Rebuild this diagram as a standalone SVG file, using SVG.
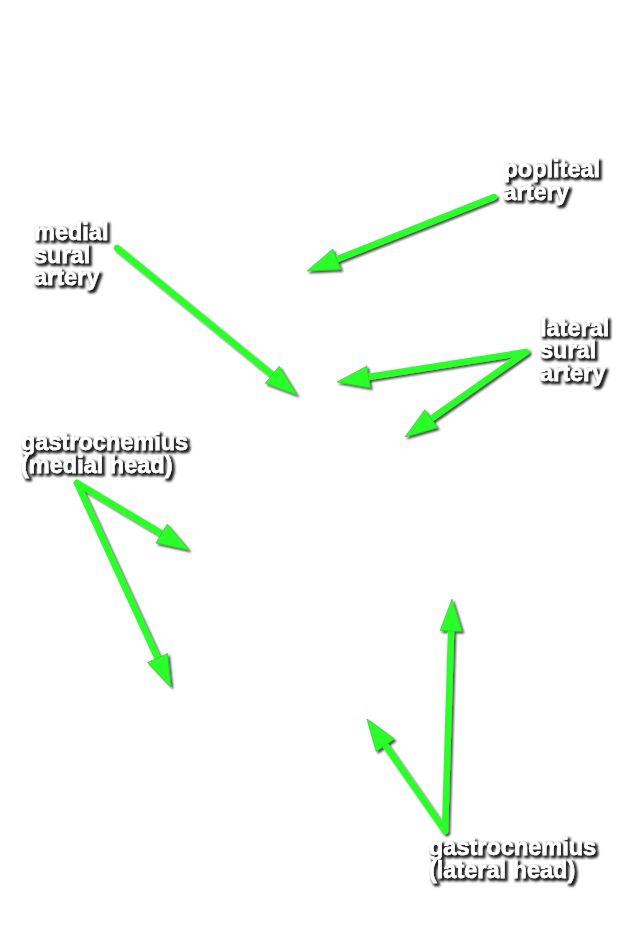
<svg xmlns="http://www.w3.org/2000/svg" width="631" height="950" viewBox="0 0 631 950">
  <defs>
    <filter id="shadow" x="-20%" y="-20%" width="140%" height="140%">
      <feGaussianBlur in="SourceAlpha" stdDeviation="1.2" result="b"/>
      <feOffset in="b" dx="2" dy="2" result="o"/>
      <feFlood flood-color="#000" flood-opacity="0.7"/>
      <feComposite in2="o" operator="in" result="s"/>
      <feMerge><feMergeNode in="s"/><feMergeNode in="SourceGraphic"/></feMerge>
    </filter>
    <filter id="tshadow" x="-10%" y="-30%" width="120%" height="160%">
      <feMorphology in="SourceAlpha" operator="dilate" radius="0.5" result="d"/>
      <feGaussianBlur in="d" stdDeviation="0.9" result="b"/>
      <feOffset in="b" dx="1.6" dy="1.8" result="o"/>
      <feFlood flood-color="#1a1a1a" flood-opacity="0.95"/>
      <feComposite in2="o" operator="in" result="s"/>
      <feMerge><feMergeNode in="s"/><feMergeNode in="SourceGraphic"/></feMerge>
    </filter>
    <marker id="head" markerUnits="userSpaceOnUse" viewBox="-3 -12 35 24" markerWidth="35" markerHeight="24" refX="0" refY="0" orient="auto" overflow="visible">
      <path d="M-2,-11 L30,0 L-2,11 Z" fill="#2cff2c" stroke="#27c827" stroke-width="0.6"/>
    </marker>
  </defs>
  <style>
    .lbl { font-family: "Liberation Sans", Arial, Helvetica, sans-serif; font-weight: bold; font-size: 23.5px; fill: #ffffff; stroke: #ffffff; stroke-width: 0.5; filter: url(#tshadow); }
    .arr { fill: none; stroke: #2cff2c; stroke-width: 6.5; stroke-linecap: round; stroke-linejoin: round; marker-end: url(#head); }
  </style>
  <rect width="631" height="950" fill="#ffffff"/>

  <g id="connectors" filter="url(#shadow)">
    <line class="arr" x1="494" y1="197" x2="334.9" y2="260"/>
    <line class="arr" x1="117" y1="248" x2="273.8" y2="376"/>
    <line class="arr" x1="526" y1="352" x2="366.6" y2="377.3"/>
    <line class="arr" x1="526" y1="352" x2="429.5" y2="419.8"/>
    <line class="arr" x1="77" y1="483" x2="163.3" y2="534.6"/>
    <line class="arr" x1="77" y1="483" x2="158.4" y2="659.8"/>
    <line class="arr" x1="445" y1="831" x2="451.1" y2="629"/>
    <line class="arr" x1="445" y1="831" x2="384.1" y2="743.6"/>
  </g>

  <g id="popliteal-artery">
    <text class="lbl" x="503.5" y="176.5">popliteal</text>
    <text class="lbl" x="503.5" y="199.5">artery</text>
  </g>
  <g id="medial-sural-artery">
    <text class="lbl" x="34" y="240">medial</text>
    <text class="lbl" x="34" y="262.5">sural</text>
    <text class="lbl" x="34" y="285">artery</text>
  </g>
  <g id="lateral-sural-artery">
    <text class="lbl" x="540" y="335.5">lateral</text>
    <text class="lbl" x="540" y="358">sural</text>
    <text class="lbl" x="540" y="380.5">artery</text>
  </g>
  <g id="gastrocnemius-medial-head">
    <text class="lbl" x="21" y="449.5">gastrocnemius</text>
    <text class="lbl" x="21" y="472.5">(medial head)</text>
  </g>
  <g id="gastrocnemius-lateral-head">
    <text class="lbl" x="429" y="855">gastrocnemius</text>
    <text class="lbl" x="429" y="878">(lateral head)</text>
  </g>
</svg>
